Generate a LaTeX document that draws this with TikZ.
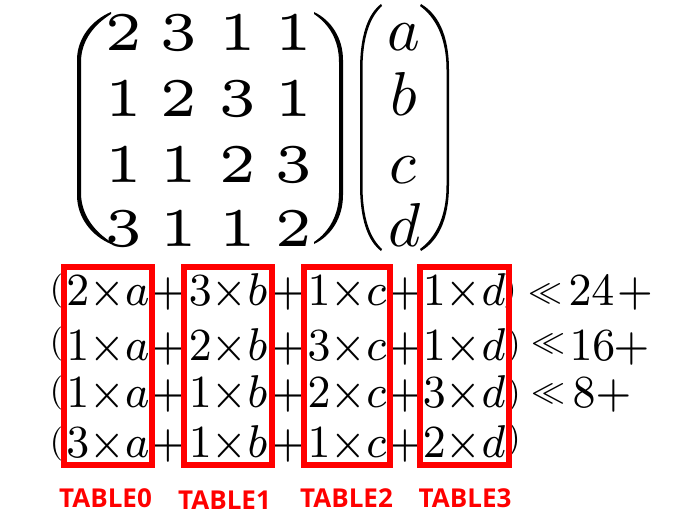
\documentclass[tikz,border=0pt]{standalone}
\usepackage[no-math]{fontspec}
\usepackage{graphicx}
\newfontfamily\labfont{Open Sans}
\newcommand\mdigit[1]{\scalebox{11.3}[10.9]{\fontencoding{OT1}\fontfamily{cmr}\fontsize{5}{6}\selectfont #1}}
\newcommand\tmath[1]{\scalebox{5.4}[5.75]{\fontsize{8}{9}\selectfont$#1$}}
\newcommand\vmath[1]{\scalebox{6.2}{$#1$}}
\begin{document}
\begin{tikzpicture}[x=1pt,y=-1pt,
  mdig/.style={anchor=base,inner sep=0pt},
  vlet/.style={anchor=base,inner sep=0pt},
  term/.style={anchor=base,inner sep=0pt},
  paren/.style={inner sep=0pt},
  llsym/.style={inner sep=0pt},
  redbox/.style={draw=red,line width=6pt},
  lab/.style={anchor=base,inner sep=0pt,text=red,font=\labfont\bfseries\fontsize{26}{26}\selectfont},
  bparen/.style={fill=black}]
\useasboundingbox (0,0) rectangle (679,527);
% matrix parentheses
\fill[bparen] (111,12) .. controls (92,20) and (77,38) .. (77,60) -- (77,195) .. controls (77,218) and (92,236) .. (111,244) -- (111,242) .. controls (95,232) and (81,215) .. (81,193) -- (81,62) .. controls (81,40) and (95,24) .. (111,14) -- cycle;
\fill[bparen] (314,12) .. controls (331,20) and (343,38) .. (343,60) -- (343,195) .. controls (343,218) and (331,236) .. (314,244) -- (314,242) .. controls (329,232) and (339,215) .. (339,193) -- (339,62) .. controls (339,40) and (329,24) .. (314,14) -- cycle;
% vector parentheses
\fill[bparen] (381,4) .. controls (368,14) and (360,35) .. (360,70) -- (360,185) .. controls (360,220) and (368,241) .. (381,251) -- (382,249) .. controls (370,238) and (362.5,218) .. (362.5,185) -- (362.5,70) .. controls (362.5,37) and (370,17) .. (382,6) -- cycle;
\fill[bparen] (421,4) .. controls (438,14) and (449,35) .. (449,70) -- (449,185) .. controls (449,220) and (438,241) .. (421,251) -- (420,249) .. controls (435,238) and (446.5,218) .. (446.5,185) -- (446.5,70) .. controls (446.5,37) and (435,17) .. (420,6) -- cycle;
% matrix entries
\node[mdig] (m11) at (124,50) {\mdigit{2}};
\node[mdig] (m12) at (179,50) {\mdigit{3}};
\node[mdig] (m13) at (238,50) {\mdigit{1}};
\node[mdig] (m14) at (294,50) {\mdigit{1}};
\node[mdig] (m21) at (124,116) {\mdigit{1}};
\node[mdig] (m22) at (179,116) {\mdigit{2}};
\node[mdig] (m23) at (238,116) {\mdigit{3}};
\node[mdig] (m24) at (294,116) {\mdigit{1}};
\node[mdig] (m31) at (124,182) {\mdigit{1}};
\node[mdig] (m32) at (179,182) {\mdigit{1}};
\node[mdig] (m33) at (238,182) {\mdigit{2}};
\node[mdig] (m34) at (294,182) {\mdigit{3}};
\node[mdig] (m41) at (124,246) {\mdigit{3}};
\node[mdig] (m42) at (179,246) {\mdigit{1}};
\node[mdig] (m43) at (238,246) {\mdigit{1}};
\node[mdig] (m44) at (294,246) {\mdigit{2}};
% vector
\node[vlet] (va) at (404,50) {\vmath{a}};
\node[vlet] (vb) at (404,115) {\vmath{b}};
\node[vlet] (vc) at (403,183) {\vmath{c}};
\node[vlet] (vd) at (405,246) {\vmath{d}};
% expanded rows
\node[paren] (lp1) at (56.5,291) {\scalebox{3.4}{(}};
\node[paren] (lp2) at (56.5,343.5) {\scalebox{3.4}{(}};
\node[paren] (lp3) at (56.5,392.5) {\scalebox{3.4}{(}};
\node[paren] (lp4) at (56.5,443.5) {\scalebox{3.4}{(}};
\node[term] (t11) at (108,305) {\tmath{2{\times}a}};
\node[term] (t12) at (228,305) {\tmath{3{\times}b}};
\node[term] (t13) at (347,305) {\tmath{1{\times}c}};
\node[term] (t14) at (464,305) {\tmath{1{\times}d}};
\node[term] (t21) at (108,360) {\tmath{1{\times}a}};
\node[term] (t22) at (228,360) {\tmath{2{\times}b}};
\node[term] (t23) at (347,360) {\tmath{3{\times}c}};
\node[term] (t24) at (464,360) {\tmath{1{\times}d}};
\node[term] (t31) at (108,407) {\tmath{1{\times}a}};
\node[term] (t32) at (228,407) {\tmath{1{\times}b}};
\node[term] (t33) at (347,407) {\tmath{2{\times}c}};
\node[term] (t34) at (464,407) {\tmath{3{\times}d}};
\node[term] (t41) at (108,457) {\tmath{3{\times}a}};
\node[term] (t42) at (228,457) {\tmath{1{\times}b}};
\node[term] (t43) at (347,457) {\tmath{1{\times}c}};
\node[term] (t44) at (464,457) {\tmath{2{\times}d}};
\foreach \r/\y in {1/305,2/360,3/407,4/457}{
  \node[term] (p\r1) at (168,\y) {\tmath{+}};
  \node[term] (p\r2) at (288,\y) {\tmath{+}};
  \node[term] (p\r3) at (405,\y) {\tmath{+}};
}
\node[paren] (rp1) at (510,291) {\scalebox{3.4}{)}};
\node[paren] (rp2) at (514,346) {\scalebox{3.4}{)}};
\node[paren] (rp3) at (514,395) {\scalebox{3.4}{)}};
\node[paren] (rp4) at (514,440) {\scalebox{3.4}{)}};
% shifts
\node[llsym] (ll1) at (545,293.5) {\scalebox{4}[3.8]{\fontsize{8}{9}\selectfont$\ll$}};
\node[llsym] (ll2) at (548,343.5) {\scalebox{4}[3.8]{\fontsize{8}{9}\selectfont$\ll$}};
\node[llsym] (ll3) at (548,393.5) {\scalebox{4}[3.8]{\fontsize{8}{9}\selectfont$\ll$}};
\node[term] (n1) at (591.5,305) {\tmath{24}};
\node[term] (n2) at (592.5,360) {\tmath{16}};
\node[term] (n3) at (584,407) {\tmath{8}};
\node[term] (q1) at (635,305) {\tmath{+}};
\node[term] (q2) at (631.5,360) {\tmath{+}};
\node[term] (q3) at (613.5,407) {\tmath{+}};
% red boxes
\draw[redbox] (64,267) rectangle (152,465);
\draw[redbox] (183.5,267) rectangle (272,465);
\draw[redbox] (303.5,267) rectangle (390,465);
\draw[redbox] (419.5,267) rectangle (508.5,465);
% labels
\node[lab] (L0) at (105.5,507) {TABLE0};
\node[lab] (L1) at (224.5,509) {TABLE1};
\node[lab] (L2) at (346.5,507) {TABLE2};
\node[lab] (L3) at (465,507) {TABLE3};
\end{tikzpicture}
\end{document}
